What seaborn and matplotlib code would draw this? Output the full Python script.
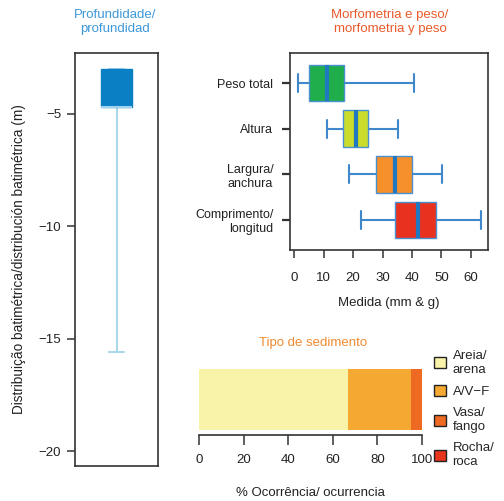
import numpy as np
import pandas as pd
import matplotlib
matplotlib.use("Agg")
import matplotlib.pyplot as plt
from matplotlib.patches import Patch
import seaborn as sns

# ---------------- data ----------------
# depth five-number summary (min, q1, median, q3, max), metres
depth_summary = [-15.6, -4.7, -4.7, -3.0, -3.0]

morph_labels = ["Peso total", "Altura", "Largura/\nanchura", "Comprimento/\nlongitud"]
peso_total = [1.4, 5.1, 11.2, 17.0, 40.7]
altura = [11.2, 16.6, 21.0, 25.1, 35.2]
largura = [18.6, 27.8, 34.2, 40.0, 50.2]
comprimento = [22.7, 34.2, 42.0, 48.1, 63.4]
morph_colors = ["#1fae4b", "#cbdc2c", "#f5902a", "#e8321f"]
morph_ticks = [0, 10, 20, 30, 40, 50, 60]

sed_labels = ["Areia/\narena", "A/V\u2212F", "Vasa/\nfango", "Rocha/\nroca"]
sed_values = [67, 28, 5, 0]
sed_colors = ["#f8f3a8", "#f5a932", "#ee6a22", "#e8351e"]
sed_ticks = [0, 20, 40, 60, 80, 100]

depth_ticks = [-5, -10, -15, -20]

# ---------------- style ----------------
sns.set_theme(style="white")
plt.rcParams["font.family"] = ["Liberation Sans", "DejaVu Sans"]
plt.rcParams["axes.edgecolor"] = "#333333"
plt.rcParams["axes.linewidth"] = 1.2
plt.rcParams["xtick.color"] = "#333333"
plt.rcParams["ytick.color"] = "#333333"
plt.rcParams["xtick.labelcolor"] = "#222222"
plt.rcParams["ytick.labelcolor"] = "#222222"

W, H = 504, 501
fig = plt.figure(figsize=(W / 100, H / 100), dpi=100)


def axes_px(x0, y0, x1, y1):
    return fig.add_axes([x0 / W, 1 - y1 / H, (x1 - x0) / W, (y1 - y0) / H])


# ---------------- left: depth ----------------
axL = axes_px(75, 53, 158, 466)
dfd = pd.DataFrame({"depth": depth_summary, "g": ["d"] * len(depth_summary)})
sns.boxplot(data=dfd, x="g", y="depth", ax=axL, whis=(0, 100), width=0.8,
            color="#0b7fc4", linecolor="#0b7fc4", fill=True, saturation=1,
            boxprops=dict(facecolor="#0b7fc4", edgecolor="#0b7fc4", linewidth=1, zorder=3),
            medianprops=dict(color="#9fd3ee", linewidth=1.5, zorder=4),
            whiskerprops=dict(color="#a8d8ea", linewidth=1.5, zorder=1),
            capprops=dict(color="#a8d8ea", linewidth=1.5, zorder=1))
axL.set_xlim(-1.1, 1.1)
axL.set_ylim(-20.66, -2.3)
axL.set_xticks([])
axL.set_xlabel("")
axL.set_yticks(depth_ticks)
axL.set_yticklabels([f"\u2212{abs(t)}" for t in depth_ticks], fontsize=9.5)
axL.tick_params(axis="y", direction="out", length=6, width=1.1, left=True, pad=4)
axL.set_ylabel("Distribuição batimétrica/distribución batimétrica (m)", fontsize=9.8,
               labelpad=9, color="#222222")
for s in axL.spines.values():
    s.set_visible(True)

# ---------------- right top: morphometry ----------------
axR = axes_px(290, 53, 488, 250)
rows = []
for lab, vals in zip(morph_labels, [peso_total, altura, largura, comprimento]):
    for v in vals:
        rows.append((lab, v))
dfm = pd.DataFrame(rows, columns=["var", "val"])
sns.boxplot(data=dfm, x="val", y="var", hue="var", order=morph_labels,
            hue_order=morph_labels, palette=morph_colors, legend=False, saturation=1,
            ax=axR, whis=(0, 100), width=0.8, orient="h",
            linecolor="#4a90d0", linewidth=1,
            medianprops=dict(color="#1f78c0", linewidth=3),
            whiskerprops=dict(color="#3f88cc", linewidth=1.5),
            capprops=dict(color="#3f88cc", linewidth=1.5))
axR.set_xlim(-1.4, 65.8)
axR.set_ylim(3.66, -0.66)
axR.set_xticks(morph_ticks)
axR.set_xticklabels([str(t) for t in morph_ticks], fontsize=9.5)
axR.tick_params(axis="x", direction="out", length=6, width=1.1, bottom=True, pad=10)
axR.tick_params(axis="y", direction="out", length=6, width=1.6, left=True, pad=6,
                labelsize=9)
for t in axR.get_yticklabels():
    t.set_horizontalalignment("right")
axR.set_ylabel("")
axR.set_xlabel("Medida (mm & g)", fontsize=9.5, labelpad=9, color="#222222")
for s in axR.spines.values():
    s.set_visible(True)

# ---------------- bottom: sediment ----------------
axB = axes_px(199, 360, 422, 435)
cum = np.cumsum(sed_values)
dfs = pd.DataFrame({"tipo": sed_labels, "cum": cum, "row": ["s"] * len(sed_labels)})
order_desc = sed_labels[::-1]
sns.barplot(data=dfs, x="cum", y="row", hue="tipo", hue_order=order_desc,
            palette=dict(zip(sed_labels, sed_colors)), dodge=False, legend=False,
            width=0.8, orient="h", ax=axB, linewidth=0, saturation=1)
axB.set_xlim(0, 100)
axB.set_ylim(0.466, -0.518)
axB.set_yticks([])
axB.set_ylabel("")
axB.set_xlabel("")
axB.set_xticks(sed_ticks)
axB.set_xticklabels([str(t) for t in sed_ticks], fontsize=9.5)
axB.tick_params(axis="x", direction="out", length=7, width=1.1, bottom=True, pad=7)
for k in ["left", "top", "right"]:
    axB.spines[k].set_visible(False)
axB.spines["bottom"].set_visible(True)

handles = [Patch(facecolor=c, edgecolor="#222222", linewidth=1) for c in sed_colors]
leg = fig.legend(handles, sed_labels, loc="upper left",
                 bbox_to_anchor=(434 / W, 1 - 350 / H),
                 frameon=False, fontsize=9.5, handlelength=0.9, handleheight=0.9,
                 handletextpad=0.5, labelspacing=0.7, borderaxespad=0, borderpad=0)

# ---------------- titles ----------------
fig.text(115 / W, 1 - 22 / H, "Profundidade/\nprofundidad", ha="center", va="center",
         fontsize=9.5, color="#3d98d8", linespacing=1.3)
fig.text(390 / W, 1 - 22 / H, "Morfometria e peso/\nmorfometria y peso", ha="center",
         va="center", fontsize=9.5, color="#ea5a2a", linespacing=1.3)
fig.text(313 / W, 1 - 343 / H, "Tipo de sedimento", ha="center", va="center",
         fontsize=9.5, color="#f08a30")
fig.text(310 / W, 1 - 493 / H, "% Ocorrência/ ocurrencia", ha="center", va="center",
         fontsize=9.5, color="#222222")

fig.savefig("out.png", dpi=100)
